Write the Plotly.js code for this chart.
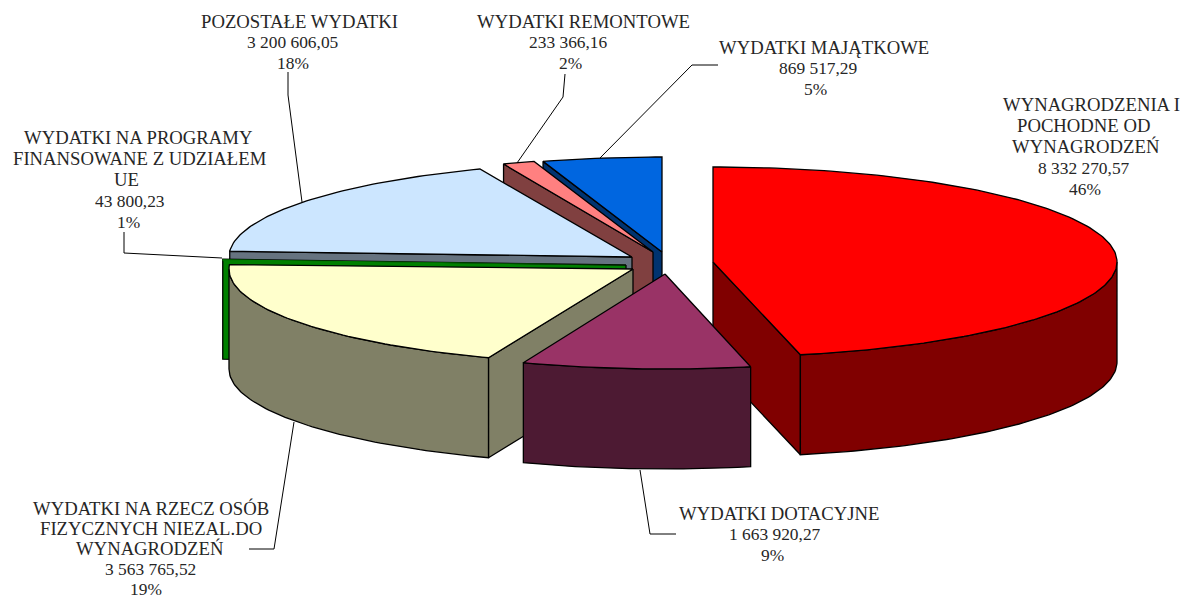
<!DOCTYPE html>
<html><head><meta charset="utf-8">
<script src="https://cdn.plot.ly/plotly-3.0.1.min.js"></script>
<style>html,body{margin:0;padding:0;background:#fff}#c{width:1185px;height:600px}</style>
</head><body><div id="c"></div>
<script>
// ---- data, clockwise from 12 o'clock ----
const names = [
  ["WYNAGRODZENIA I","POCHODNE OD","WYNAGRODZEŃ"],
  ["WYDATKI DOTACYJNE"],
  ["WYDATKI NA RZECZ OSÓB","FIZYCZNYCH NIEZAL.DO","WYNAGRODZEŃ"],
  ["WYDATKI NA PROGRAMY","FINANSOWANE Z UDZIAŁEM","UE"],
  ["POZOSTAŁE WYDATKI"],
  ["WYDATKI REMONTOWE"],
  ["WYDATKI MAJĄTKOWE"]
];
const values = [8332270.57,1663920.27,3563765.52,43800.23,3200606.05,233366.16,869517.29];
const valueLabels = ["8 332 270,57","1 663 920,27","3 563 765,52","43 800,23","3 200 606,05","233 366,16","869 517,29"];
const percentLabels = ["46%","9%","19%","1%","18%","2%","5%"];

// ---- styling and layout ----
const topColors  = ["#FF0000","#993366","#FFFFCC","#008000","#CCE6FF","#FF8080","#0066E0"];
const wallColors = ["#800000","#4D1A33","#808066","#008000","#667380","#804040","#003370"];
const centerX = [713,665,633,626,632,653,662];
const centerY = [262,274,269,265,257,252,252];
const radiusX = [404,396,404,404,403,396,396];
const drawOrder = [6,5,4,3,2,0,1];
const B = 95, DEPTH = 100;
const labelX = [
  [1091,1083,1086,1084,1085],[779,775,772],[151,151,150,150,146],
  [138,140,126,130,128],[299,293,293],[583,568,570],[824,818,815]
];
const labelY0 = [104,513,508,137,21,21,47];
const labelLine = [21.2,21.2,20.3,21.2,21.2,21.2,21.2];
const NAME_SIZE = 18.7, NUM_SIZE = 17.4;
const leaders = [
  {x:[676,650,640],y:[534,534,470]},
  {x:[249,274,294],y:[549,549,422]},
  {x:[124,124,222],y:[232,253,258]},
  {x:[288,288,302],y:[72,95,202]},
  {x:[565,563,517],y:[74,97,163]},
  {x:[718,692,600],y:[65,65,158]}
];

// ---- geometry from values ----
const total = values.reduce((a,b)=>a+b,0);
let acc = 0;
const starts = [], ends = [];
values.forEach(v=>{starts.push(acc/total*360); acc+=v; ends.push(acc/total*360);});
const rad = d=>d*Math.PI/180;
const px = (i,t)=>centerX[i]+radiusX[i]*Math.sin(rad(t));
const py = (i,t)=>centerY[i]-B*Math.cos(rad(t));
const poly = (xs,ys,fill,lw)=>({type:"scatter",mode:"lines",x:xs,y:ys,fill:"toself",fillcolor:fill,
  line:{color:lw?"#000":fill,width:lw||0.1},hoverinfo:"skip",showlegend:false});
function arc(i,t0,t1){const xs=[],ys=[];const n=Math.max(2,Math.ceil(Math.abs(t1-t0)));
  for(let k=0;k<=n;k++){const t=t0+(t1-t0)*k/n;xs.push(px(i,t));ys.push(py(i,t));}return [xs,ys];}
function radialWall(i,t,col){const X=px(i,t),Y=py(i,t),cx=centerX[i],cy=centerY[i];
  return poly([cx,X,X,cx,cx],[cy,Y,Y+DEPTH,cy+DEPTH,cy],col,1.3);}
const traces=[];
drawOrder.forEach(i=>{
  const s=starts[i],e=ends[i];
  const thin=(e-s)<2;
  if(thin){traces.push(radialWall(i,e,wallColors[i]));}
  else{
    if(s>180) traces.push(radialWall(i,s,wallColors[i]));
    if(e<180) traces.push(radialWall(i,e,wallColors[i]));
  }
  const a0=Math.max(s,90),a1=Math.min(e,270);
  if(a1>a0){
    const [xs,ys]=arc(i,a0,a1);
    const xr=xs.slice().reverse(),yr=ys.map(v=>v+DEPTH).reverse();
    traces.push(poly(xs.concat(xr,[xs[0]]),ys.concat(yr,[ys[0]]),wallColors[i],1.3));
  }
  const [tx,ty]=arc(i,s,e);
  traces.push(poly([centerX[i]].concat(tx,[centerX[i]]),[centerY[i]].concat(ty,[centerY[i]]),topColors[i],thin?0:1.3));
});
leaders.forEach(l=>traces.push({type:"scatter",mode:"lines",x:l.x,y:l.y,line:{color:"#000",width:1},hoverinfo:"skip",showlegend:false}));

const annotations=[];
names.forEach((nm,i)=>{
  const n=nm.length;
  nm.concat([valueLabels[i],percentLabels[i]]).forEach((txt,j)=>{
    annotations.push({text:txt,x:labelX[i][j],y:labelY0[i]+j*labelLine[i],xref:"x",yref:"y",showarrow:false,
      xanchor:"center",yanchor:"middle",font:{family:"Liberation Serif, serif",size:j<n?NAME_SIZE:NUM_SIZE,color:"#262626"}});
  });
});

Plotly.newPlot("c",traces,{
  width:1185,height:600,margin:{l:0,r:0,t:0,b:0},paper_bgcolor:"#fff",plot_bgcolor:"#fff",
  xaxis:{range:[0,1185],visible:false,fixedrange:true},
  yaxis:{range:[600,0],visible:false,fixedrange:true},
  showlegend:false,annotations
},{displayModeBar:false,staticPlot:true});
</script></body></html>
